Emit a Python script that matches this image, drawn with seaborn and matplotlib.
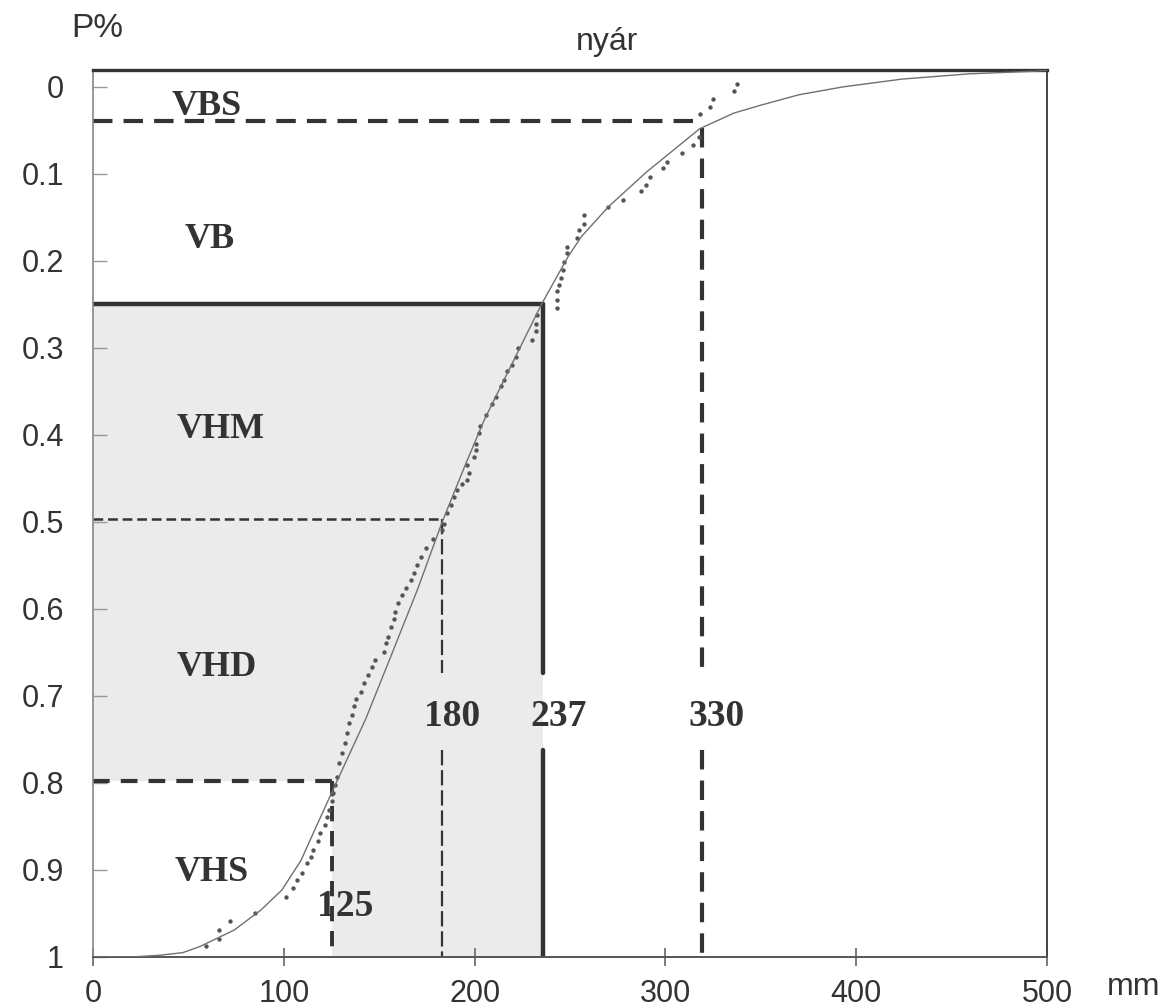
# coding=utf-8
# filename: plot.py

import matplotlib
matplotlib.use('Agg')
import matplotlib.pyplot as plt
import seaborn as sns


# fitted exceedance curve (mm, P)
curve_x = [0, 20, 35, 47, 56, 74, 88, 99, 109, 117, 127, 143, 156, 170, 183,
           195, 205, 221, 235, 249, 256, 270, 290, 318, 336, 350, 370, 393,
           424, 459, 493, 500]
curve_p = [1.0, 1.0, 0.998, 0.995, 0.988, 0.969, 0.946, 0.923, 0.889, 0.850,
           0.802, 0.726, 0.655, 0.578, 0.500, 0.435, 0.383, 0.312, 0.250,
           0.195, 0.172, 0.138, 0.098, 0.048, 0.030, 0.021, 0.009, 0.000,
           -0.009, -0.015, -0.018, -0.019]

# observed values
obs_x = [59, 66, 66, 72, 85, 101, 105, 107, 109.5, 112, 114, 115.5, 118, 119,
         121.8, 122.7, 123.5, 125.3, 126, 127, 128, 128.8, 130.5, 132.3, 133.2,
         134, 135.8, 136.6, 138, 140.2, 141.9, 144, 146, 148, 152.4, 153.3,
         154.5, 156, 157.6, 158.5, 160, 162, 163.8, 166.4, 168.1, 169.9, 171.7,
         174.3, 178, 183, 184, 185.7, 187.4, 189, 191, 193.5, 196, 197, 196,
         199.6, 200.5, 200.5, 202.3, 203, 205.8, 209.3, 211, 213.6, 215.4,
         217.2, 219.4, 221.5, 222.7, 230.3, 232, 232, 232.9, 243, 243.4, 243.4,
         244.3, 245.1, 246.5, 246.9, 248.3, 248.3, 253.9, 254.8, 257.4, 257.4,
         269.7, 278, 287.1, 289.8, 292, 298.5, 300.8, 308.5, 314.6, 317.8,
         318.3, 323.5, 324.8, 335.8, 337.5]
obs_p = [0.987, 0.979, 0.969, 0.959, 0.950, 0.931, 0.921, 0.911, 0.904, 0.892,
         0.885, 0.877, 0.867, 0.858, 0.848, 0.839, 0.831, 0.821, 0.812, 0.802,
         0.793, 0.777, 0.766, 0.754, 0.743, 0.731, 0.722, 0.712, 0.703, 0.695,
         0.685, 0.676, 0.667, 0.659, 0.649, 0.639, 0.632, 0.621, 0.611, 0.603,
         0.593, 0.584, 0.576, 0.567, 0.559, 0.549, 0.540, 0.530, 0.520, 0.509,
         0.502, 0.490, 0.480, 0.471, 0.463, 0.456, 0.452, 0.444, 0.434, 0.425,
         0.417, 0.410, 0.398, 0.390, 0.377, 0.364, 0.356, 0.344, 0.337, 0.327,
         0.320, 0.310, 0.300, 0.291, 0.281, 0.272, 0.262, 0.254, 0.245, 0.235,
         0.228, 0.220, 0.210, 0.201, 0.191, 0.184, 0.174, 0.165, 0.157, 0.147,
         0.138, 0.130, 0.120, 0.113, 0.103, 0.093, 0.086, 0.076, 0.067, 0.057,
         0.031, 0.023, 0.014, 0.005, -0.003]

x_ticks = [0, 100, 200, 300, 400, 500]
x_tick_labels = ['0', '100', '200', '300', '400', '500']
y_ticks = [0, 0.1, 0.2, 0.3, 0.4, 0.5, 0.6, 0.7, 0.8, 0.9, 1.0]
y_tick_labels = ['0', '0.1', '0.2', '0.3', '0.4', '0.5',
                 '0.6', '0.7', '0.8', '0.9', '1']

zone_names = ['VBS', 'VB', 'VHM', 'VHD', 'VHS']
zone_name_x = [41, 48, 44, 44, 43]
zone_name_p = [0.032, 0.185, 0.404, 0.677, 0.913]

# threshold lines: horizontal level, x where it meets the curve
threshold_p = [0.039, 0.25, 0.497, 0.798]
threshold_start = [0.047, 0.25, 0.497, 0.798]
threshold_x = [319, 236, 183, 125]
threshold_labels = ['330', '237', '180', '125']
threshold_label_x = [327, 244, 188, 132]
threshold_label_p = [0.734, 0.734, 0.734, 0.953]

ink = '#333333'
font_size = 22

sns.set_style('white')
plt.rcParams['font.family'] = ['Liberation Sans', 'DejaVu Sans']
plt.rcParams['lines.scale_dashes'] = False

fig = plt.figure(figsize=(11.69, 10.08), dpi=100)
ax = fig.add_axes([0.0796, 0.0506, 0.816, 0.88])

# grey band (VHM + VHD)
ax.fill([0, threshold_x[1], threshold_x[1], threshold_x[3], threshold_x[3], 0],
        [threshold_p[1], threshold_p[1], 1.0, 1.0, threshold_p[3], threshold_p[3]],
        color='#ebebeb', lw=0, zorder=0)

styles = [
    dict(h=dict(lw=3.0, ls=(0, (14, 8))), v=dict(lw=3.0, ls=(0, (14, 8)))),
    dict(h=dict(lw=3.2, ls='-'), v=dict(lw=3.2, ls='-')),
    dict(h=dict(lw=1.8, ls=(0, (7, 3.5))), v=dict(lw=1.6, ls=(0, (11, 3.5)))),
    dict(h=dict(lw=3.0, ls=(0, (12, 8))), v=dict(lw=2.8, ls=(0, (11, 7)))),
]
gap = (0.674, 0.762)

for i in range(len(threshold_x)):
    st = styles[i]
    ax.plot([0, threshold_x[i]], [threshold_p[i], threshold_p[i]],
            color=ink, zorder=2, **st['h'])
    if i < 3:
        segs = [(threshold_start[i], gap[0]), (gap[1], 1.0)]
    else:
        segs = [(threshold_start[i], 1.0)]
    for a, b in segs:
        ax.plot([threshold_x[i], threshold_x[i]], [a, b],
                color=ink, zorder=2, **st['v'])

sns.scatterplot(x=obs_x, y=obs_p, ax=ax, s=10, color='#555555',
                linewidth=0, zorder=3, legend=False)
sns.lineplot(x=curve_x, y=curve_p, ax=ax, color='#707070', lw=1.0,
             estimator=None, sort=False, zorder=4, legend=False)

for name, zx, zp in zip(zone_names, zone_name_x, zone_name_p):
    ax.text(zx, zp, name, ha='left', va='baseline', fontsize=26,
            fontweight='bold', family='Liberation Serif', color=ink, zorder=5)

for lab, lx, lp in zip(threshold_labels, threshold_label_x, threshold_label_p):
    ax.text(lx, lp, lab, ha='center', va='baseline', fontsize=27,
            fontweight='bold', family='Liberation Serif', color=ink, zorder=5)

ax.set_xlim(0, 500)
ax.set_ylim(1.0, -0.0195)
ax.set_xticks(x_ticks)
ax.set_xticklabels(x_tick_labels)
ax.set_yticks(y_ticks)
ax.set_yticklabels(y_tick_labels)
ax.set_xlabel('')
ax.set_ylabel('')

ax.tick_params(axis='x', bottom=True, direction='inout', length=13, width=1.2,
               color='#666666', labelsize=font_size, labelcolor=ink, pad=9)
ax.tick_params(axis='y', left=True, direction='in', length=10, width=1.0,
               color='#999999', labelsize=font_size, labelcolor=ink, pad=21)

for side in ['left', 'right', 'top', 'bottom']:
    ax.spines[side].set_visible(True)
ax.spines['top'].set_linewidth(2.4)
ax.spines['top'].set_color(ink)
ax.spines['right'].set_linewidth(1.4)
ax.spines['right'].set_color('#444444')
ax.spines['left'].set_linewidth(1.2)
ax.spines['left'].set_color('#888888')
ax.spines['bottom'].set_linewidth(1.4)
ax.spines['bottom'].set_color('#555555')

fig.text(0.083, 0.9636, 'P%', ha='center', va='baseline', fontsize=24, color=ink)
fig.text(0.519, 0.950, 'nyár', ha='center', va='baseline', fontsize=23, color=ink)
fig.text(0.970, 0.013, 'mm', ha='center', va='baseline', fontsize=23, color=ink)

plt.savefig('out.png', dpi=100)
